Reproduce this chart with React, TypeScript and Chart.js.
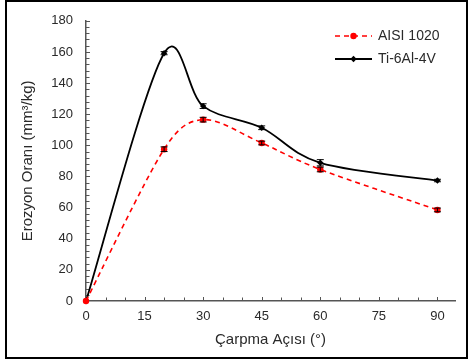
import React, { useEffect, useRef } from "react";
import { Chart, registerables } from "chart.js";

Chart.register(...registerables);

// ---- data ----
const impactAngles = [0, 20, 30, 45, 60, 90];
const aisi1020Rates = [0, 97.5, 116.5, 101.5, 84.5, 58.5];
const aisi1020Errors = [0, 1.5, 1.5, 1.2, 1.5, 1.2];
const ti64Rates = [0, 159.2, 125.2, 111.3, 88.8, 77.4];
const ti64Errors = [0, 1, 1.5, 1.2, 2, 0.8];
const xTickValues = [0, 15, 30, 45, 60, 75, 90];
const seriesNames = ["AISI 1020", "Ti-6Al-4V"];
const xTitle = "Çarpma Açısı (°)";
const yTitle = "Erozyon Oranı (mm³/kg)";

const FONT = "'Liberation Sans', Arial, sans-serif";
const AXIS_COLOR = "#555";
const TEXT_COLOR = "#2a2a2a";

const seriesStyles = [
  { color: "#ff0000", dash: [5, 4], pointStyle: "circle", radius: 3.2, width: 1.6 },
  { color: "#000000", dash: [] as number[], pointStyle: "rectRot", radius: 3.2, width: 1.8 },
];
const errorArrays = [aisi1020Errors, ti64Errors];

// Excel-style smoothing: handles = (next - prev)/6, clamped to half the segment
function applyExcelSmoothing(points: any[]) {
  const n = points.length;
  for (let i = 0; i < n; i++) {
    const p = points[i];
    const prev = points[Math.max(0, i - 1)];
    const next = points[Math.min(n - 1, i + 1)];
    let hx = (next.x - prev.x) / 6;
    let hy = (next.y - prev.y) / 6;
    const hl = Math.hypot(hx, hy) || 1;
    // outgoing
    if (i < n - 1) {
      const seg = Math.hypot(next.x - p.x, next.y - p.y);
      const k = Math.min(1, seg / 2 / hl);
      p.cp2x = p.x + hx * k;
      p.cp2y = p.y + hy * k;
    } else {
      p.cp2x = p.x;
      p.cp2y = p.y;
    }
    // incoming
    if (i > 0) {
      const seg = Math.hypot(p.x - prev.x, p.y - prev.y);
      const k = Math.min(1, seg / 2 / hl);
      p.cp1x = p.x - hx * k;
      p.cp1y = p.y - hy * k;
    } else {
      p.cp1x = p.x;
      p.cp1y = p.y;
    }
  }
}

const decorPlugin = {
  id: "decor",
  beforeDatasetsDraw(chart: any) {
    const { ctx, scales } = chart;
    const x = scales.x;
    const y = scales.y;
    // smoothing
    chart.data.datasets.forEach((_ds: any, di: number) => {
      const meta = chart.getDatasetMeta(di);
      if (meta.dataset && meta.dataset.updateControlPoints) {
        meta.dataset.updateControlPoints(chart.chartArea, "x");
      }
      applyExcelSmoothing(meta.data);
    });
    ctx.save();
    ctx.strokeStyle = AXIS_COLOR;
    ctx.lineWidth = 1;
    // x-axis tick marks (inside)
    for (let v = 5; v <= 90; v += 5) {
      const px = Math.round(x.getPixelForValue(v)) + 0.5;
      ctx.beginPath();
      ctx.moveTo(px, y.bottom);
      ctx.lineTo(px, y.bottom - (v % 15 === 0 ? 4 : 3.5));
      ctx.stroke();
    }
    // y-axis tick marks (inside)
    for (let v = 4; v <= 180; v += 4) {
      const py = Math.round(y.getPixelForValue(v)) + 0.5;
      ctx.beginPath();
      ctx.moveTo(x.left, py);
      ctx.lineTo(x.left + (v % 20 === 0 ? 4 : 3.5), py);
      ctx.stroke();
    }
    ctx.restore();
  },
  afterDatasetsDraw(chart: any) {
    const { ctx, scales } = chart;
    const y = scales.y;
    ctx.save();
    chart.data.datasets.forEach((ds: any, di: number) => {
      const meta = chart.getDatasetMeta(di);
      const errs = errorArrays[di];
      ctx.strokeStyle = "#000";
      ctx.lineWidth = 1;
      meta.data.forEach((pt: any, i: number) => {
        const e = errs[i];
        if (!e) return;
        const v = ds.data[i].y;
        const top = y.getPixelForValue(v + e);
        const bot = y.getPixelForValue(v - e);
        ctx.beginPath();
        ctx.moveTo(pt.x, top);
        ctx.lineTo(pt.x, bot);
        ctx.moveTo(pt.x - 3.5, top);
        ctx.lineTo(pt.x + 3.5, top);
        ctx.moveTo(pt.x - 3.5, bot);
        ctx.lineTo(pt.x + 3.5, bot);
        ctx.stroke();
      });
    });
    ctx.restore();
  },
  afterDraw(chart: any) {
    const { ctx } = chart;
    ctx.save();
    // legend
    const rows = [36, 59];
    seriesNames.forEach((name, i) => {
      const st = seriesStyles[i];
      const ry = rows[i];
      ctx.strokeStyle = st.color;
      ctx.lineWidth = st.width;
      ctx.setLineDash(st.dash);
      ctx.beginPath();
      ctx.moveTo(335, ry);
      ctx.lineTo(372, ry);
      ctx.stroke();
      ctx.setLineDash([]);
      ctx.fillStyle = st.color;
      ctx.beginPath();
      if (st.pointStyle === "circle") {
        ctx.arc(353.5, ry, 3.2, 0, Math.PI * 2);
      } else {
        ctx.moveTo(353.5, ry - 3.2);
        ctx.lineTo(356.7, ry);
        ctx.lineTo(353.5, ry + 3.2);
        ctx.lineTo(350.3, ry);
        ctx.closePath();
      }
      ctx.fill();
      ctx.fillStyle = TEXT_COLOR;
      ctx.font = `14px ${FONT}`;
      ctx.textBaseline = "middle";
      ctx.textAlign = "left";
      ctx.fillText(name, 378, ry + 0.5);
    });
    // outer frame
    ctx.strokeStyle = "#000";
    ctx.lineWidth = 2;
    ctx.strokeRect(6, 1, 461, 357);
    ctx.restore();
  },
};

export default function App() {
  const canvasRef = useRef<HTMLCanvasElement | null>(null);

  useEffect(() => {
    if (!canvasRef.current) return;
    const datasets = [aisi1020Rates, ti64Rates].map((vals, i) => {
      const st = seriesStyles[i];
      return {
        label: seriesNames[i],
        data: impactAngles.map((a, j) => ({ x: a, y: vals[j] })),
        borderColor: st.color,
        backgroundColor: st.color,
        borderWidth: st.width,
        borderDash: st.dash,
        pointStyle: st.pointStyle,
        pointRadius: st.radius,
        pointBorderWidth: 0,
        pointBackgroundColor: st.color,
        tension: 0.4,
        clip: false as any,
      };
    });
    const chart = new Chart(canvasRef.current, {
      type: "line",
      data: { datasets: datasets as any },
      options: {
        animation: false,
        responsive: false,
        layout: { padding: { left: 0, top: 18, right: 13, bottom: 0 } },
        plugins: { legend: { display: false }, tooltip: { enabled: false } },
        scales: {
          x: {
            type: "linear",
            min: 0,
            max: 94.5,
            afterBuildTicks: (scale: any) => {
              scale.ticks = xTickValues.map((v) => ({ value: v }));
            },
            afterFit: (scale: any) => {
              scale.height = 59;
            },
            grid: { display: false, drawTicks: false },
            border: { display: true, color: AXIS_COLOR, width: 1.5 },
            ticks: {
              padding: 8,
              color: TEXT_COLOR,
              font: { family: FONT, size: 13 },
              maxRotation: 0,
              autoSkip: false,
            },
            title: {
              display: true,
              text: xTitle,
              color: TEXT_COLOR,
              font: { family: FONT, size: 15 },
              padding: { top: 0, bottom: 11 },
            },
          },
          y: {
            type: "linear",
            min: 0,
            max: 180,
            afterFit: (scale: any) => {
              scale.width = 86;
            },
            grid: { display: false, drawTicks: false },
            border: { display: true, color: AXIS_COLOR, width: 1.5 },
            ticks: {
              stepSize: 20,
              padding: 13,
              color: TEXT_COLOR,
              font: { family: FONT, size: 13 },
            },
            title: {
              display: true,
              text: yTitle,
              color: TEXT_COLOR,
              font: { family: FONT, size: 15 },
              padding: { top: 19, bottom: 0 },
            },
          },
        },
      },
      plugins: [decorPlugin],
    });
    return () => chart.destroy();
  }, []);

  return (
    <div style={{ position: "absolute", left: 0, top: 0, width: 468, height: 360, background: "#fff" }}>
      <canvas ref={canvasRef} width={468} height={360} style={{ display: "block" }} />
    </div>
  );
}
